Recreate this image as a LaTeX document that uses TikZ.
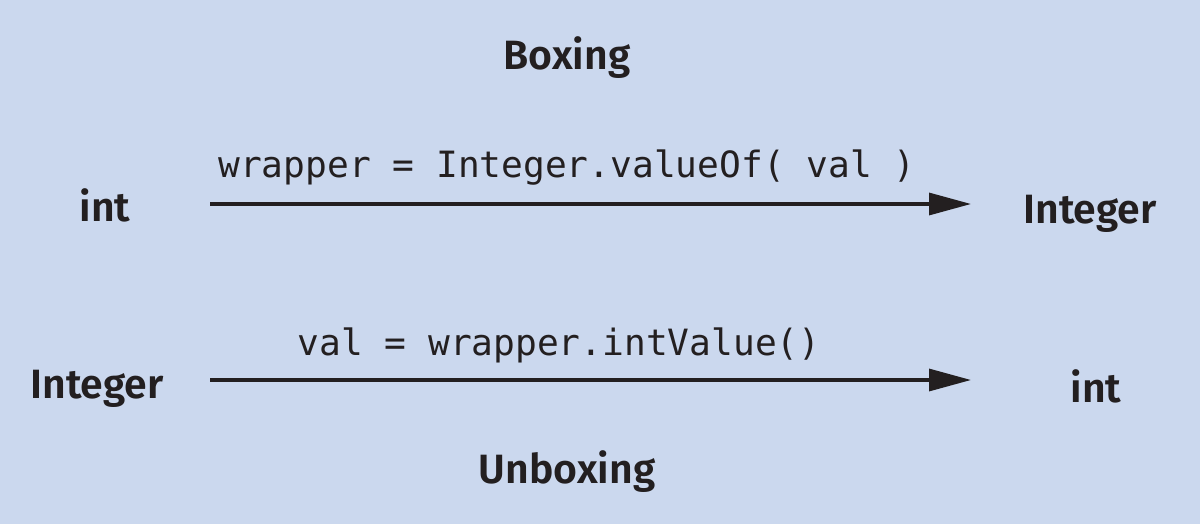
\documentclass[tikz,border=0pt]{standalone}
\usepackage{fontspec}
\setsansfont{Fira Sans}[BoldFont={Fira Sans SemiBold}]
\setmonofont{DejaVu Sans Mono}
\usetikzlibrary{arrows.meta,positioning}
\definecolor{panelblue}{HTML}{CBD8EE}
\definecolor{inkdark}{HTML}{231F20}

\begin{document}
\begin{tikzpicture}[x=0.02cm, y=-0.02cm,
    typelbl/.style={font=\sffamily\bfseries\fontsize{23.3}{26}\selectfont, text=inkdark, inner sep=0pt, anchor=base},
    codelbl/.style={font=\ttfamily\fontsize{20.6}{24}\selectfont, text=inkdark, inner sep=0pt, anchor=base},
    convarrow/.style={-{Triangle[length=0.84cm, width=0.44cm]}, line width=0.065cm, draw=inkdark}]
% Background panel
\fill[panelblue] (0,0) rectangle (1200,524);
\useasboundingbox (0,0) rectangle (1200,524);

% Headings
\node[typelbl] (boxing) at (567,69) {Boxing};
\node[typelbl] (unboxing) at (567,483) {Unboxing};

% Boxing: int -> Integer
\node[typelbl] (intA) at (105,221) {int};
\node[typelbl] (integerA) at (1090,223) {Integer};
\coordinate (boxS) at (210,204);
\coordinate (boxE) at (971,204);
\draw[convarrow] (boxS) -- (boxE);
\node[codelbl] (valueof) at (567,177) {wrapper = Integer.valueOf( val )};

% Unboxing: Integer -> int
\node[typelbl] (integerB) at (97,398) {Integer};
\node[typelbl] (intB) at (1096,402) {int};
\coordinate (unboxS) at (210,380);
\coordinate (unboxE) at (971,380);
\draw[convarrow] (unboxS) -- (unboxE);
\node[codelbl] (intvalue) at (559,355) {val = wrapper.intValue()};
\end{tikzpicture}
\end{document}
